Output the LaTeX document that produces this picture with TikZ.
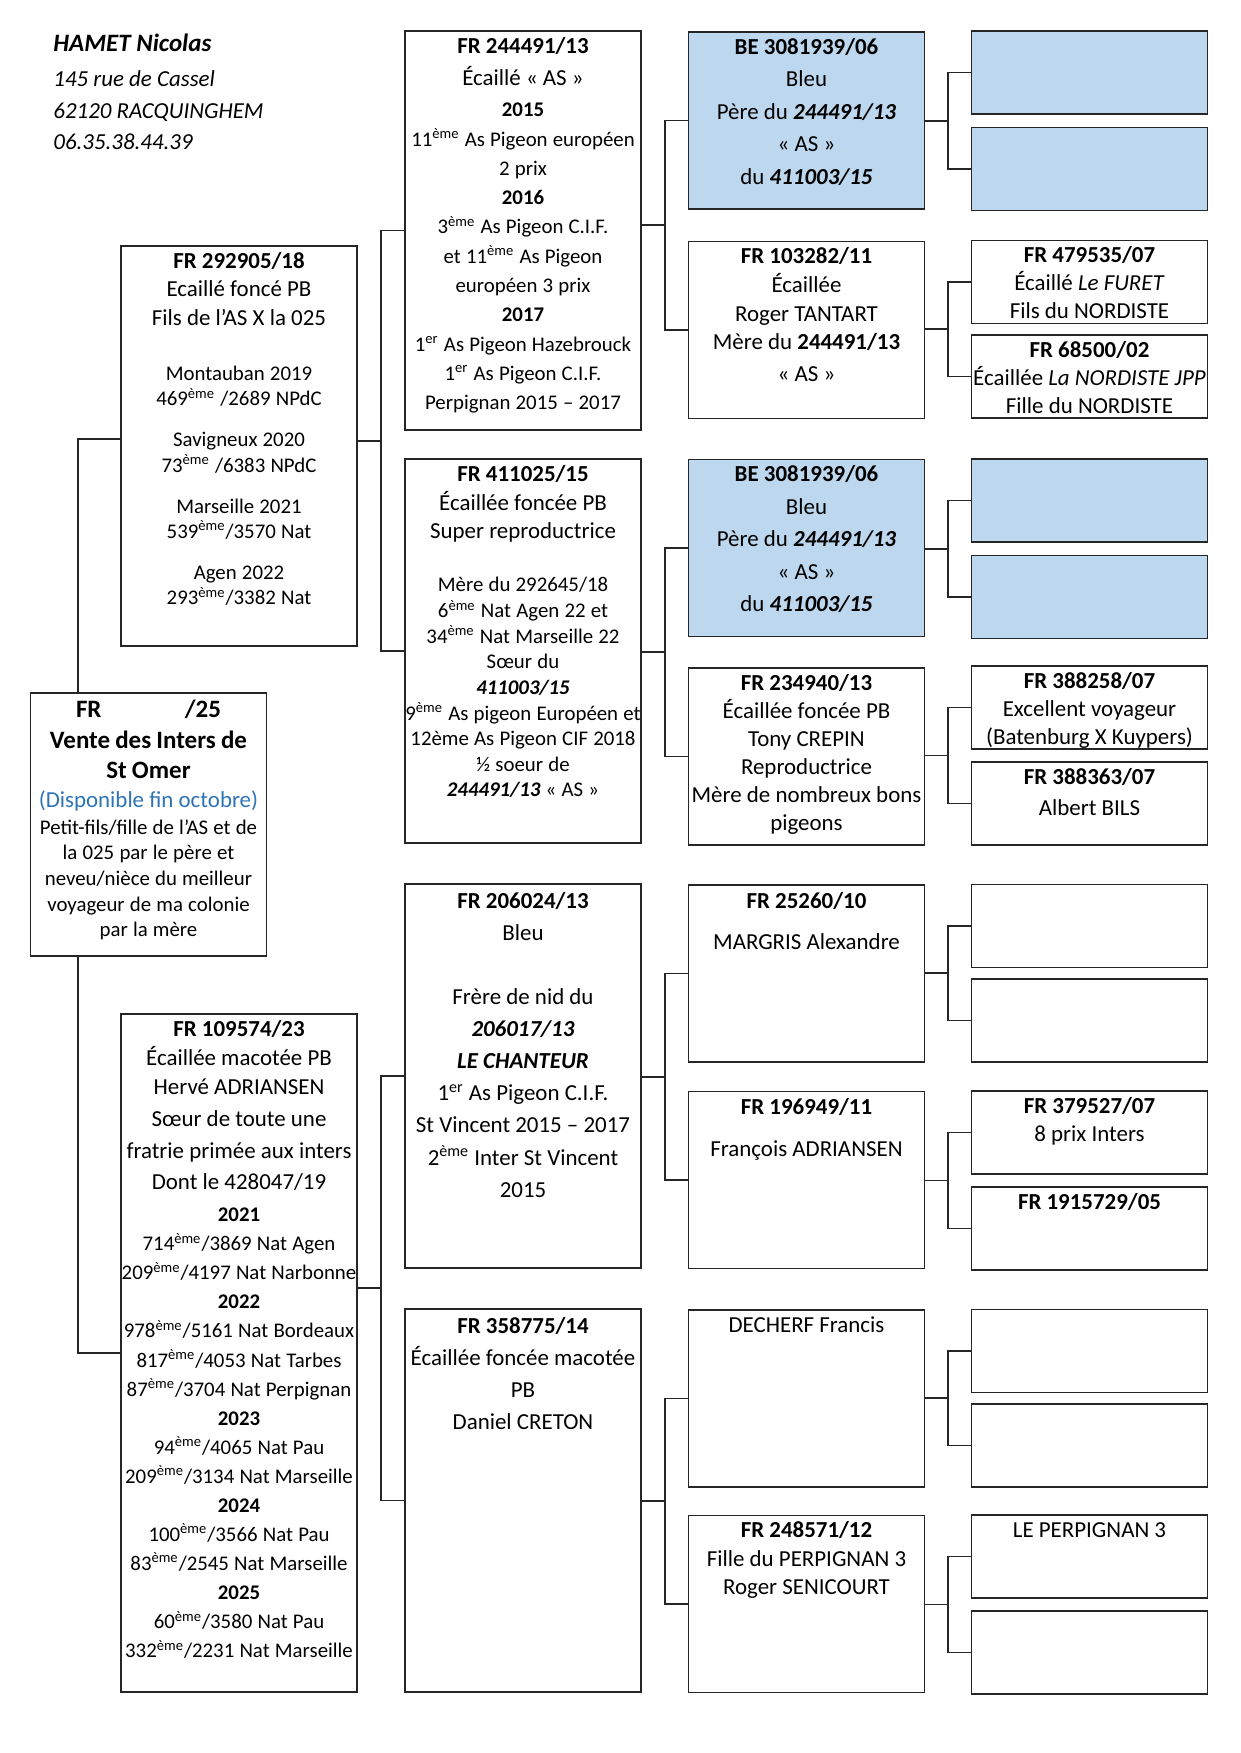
\documentclass[tikz,border=0pt]{standalone}
\usepackage{fontspec}
\setmainfont{Carlito}
\usetikzlibrary{positioning,calc}
\definecolor{fillblue}{RGB}{189,215,238}
\definecolor{linegray}{RGB}{38,38,38}
\definecolor{noteblue}{RGB}{46,116,181}
\newlength\unitpx
\setlength\unitpx{0.48006pt}
\newcommand\fstrut{\rule{0pt}{9pt}}
\newcommand\tenpt{\fontsize{10}{\baselineskip}\selectfont}
\newcommand\eme{\textsuperscript{ème}}
\newcommand\er{\textsuperscript{er}}
\tikzset{
  % cadres de l'arbre
  pedbox/.style  = {draw=linegray, line width=0.75pt, fill=white, inner sep=0pt, minimum width=236\unitpx},
  tall/.style    = {minimum height=#1\unitpx},
  % textes dans les cadres
  txt/.style     = {anchor=north, align=center, inner sep=0pt, text width=125pt, font=\fontsize{11}{#1}\selectfont,
                    execute at begin node={\spaceskip=0.2264em\relax\xspaceskip=0.2264em\relax}},
  txt/.default   = 14,
  % traits de liaison
  link/.style    = {draw=linegray, line width=0.75pt},
}
\begin{document}
\begin{tikzpicture}[x=\unitpx, y=-\unitpx]
  \useasboundingbox (0,0) rectangle (1240,1753);

  % en-tete
  \node[anchor=north west, align=left, inner sep=0pt, font=\fontsize{11}{15.3}\selectfont\itshape] (hdr) at (53,30.3)
    {\rule{0pt}{10pt}\fontsize{12}{15.3}\selectfont\textbf{HAMET Nicolas}\\[1.3pt]
     \fontsize{11}{15.3}\selectfont 145 rue de Cassel\\ 62120 RACQUINGHEM\\ 06.35.38.44.39};

  % le jeune
  \node[pedbox, tall=263] (young) at (148.5,824.5) {};
  \node[txt=12.3, below=1.8pt of young.north] (youngt)
    {\fontsize{12}{12.3}\selectfont\bfseries\rule{0pt}{10pt}FR\hspace{40pt}/25\\[2.6pt]
     Vente des Inters de\\[2.1pt] St Omer\\[1.6pt]
     \mdseries\fontsize{11}{12.3}\selectfont\textcolor{noteblue}{(Disponible fin octobre)}\\[0.7pt]
     \fontsize{10}{12.3}\selectfont Petit-fils/fille de l’AS et de\\ la 025 par le père et\\
     neveu/nièce du meilleur\\ voyageur de ma colonie\\ par la mère};

  % parents
  \node[pedbox, tall=400] (p1) at (239,446) {};
  \node[pedbox, tall=678] (p2) at (239,1353) {};
  \node[txt=12.2, below=1.8pt of p1.north] (p1t)
    {\fstrut\textbf{FR 292905/18}\\[1.5pt] Ecaillé foncé PB\\[1.5pt] Fils de l’AS X la 025\\[14.2pt]
     \tenpt Montauban 2019\\ 469\eme{} /2689 NPdC\\[7.5pt] Savigneux 2020\\ 73\eme{} /6383 NPdC\\[7.5pt]
     Marseille 2021\\ 539\eme/3570 Nat\\[7.5pt] Agen 2022\\ 293\eme/3382 Nat};
  \node[txt=13.95, below=1.8pt of p2.north] (p2t)
    {\fstrut\textbf{FR 109574/23}\\ Écaillée macotée PB\\ Hervé ADRIANSEN\\[1.6pt] Sœur de toute une\\[1.1pt]
     fratrie primée aux inters\\[1.1pt] Dont le 428047/19\\[1.6pt]
     \tenpt\textbf{2021}\\ 714\eme/3869 Nat Agen\\ 209\eme/4197 Nat Narbonne\\
     \textbf{2022}\\ 978\eme/5161 Nat Bordeaux\\ 817\eme/4053 Nat Tarbes\\ 87\eme/3704 Nat Perpignan\\
     \textbf{2023}\\ 94\eme/4065 Nat Pau\\ 209\eme/3134 Nat Marseille\\
     \textbf{2024}\\ 100\eme/3566 Nat Pau\\ 83\eme/2545 Nat Marseille\\
     \textbf{2025}\\ 60\eme/3580 Nat Pau\\ 332\eme/2231 Nat Marseille};

  % grands-parents
  \foreach \i/\y/\h in {1/230.5/399, 2/651/384, 3/1076/384, 4/1500.5/383}
    \node[pedbox, tall=\h] (gp\i) at (523,\y) {};
  \node[txt=14.05, below=1.8pt of gp1.north] (gp1t)
    {\fstrut\textbf{FR 244491/13}\\[1.5pt] Écaillé «~AS~»\\[1pt] \tenpt\textbf{2015}\\ 11\eme{} As Pigeon européen\\ 2 prix\\
     \textbf{2016}\\ 3\eme{} As Pigeon C.I.F.\\ et 11\eme{} As Pigeon\\ européen 3 prix\\
     \textbf{2017}\\ 1\er{} As Pigeon Hazebrouck\\ 1\er{} As Pigeon C.I.F.\\ Perpignan 2015 – 2017};
  \node[txt=12.3, below=1.8pt of gp2.north] (gp2t)
    {\fstrut\textbf{FR 411025/15}\\[1.6pt] Écaillée foncée PB\\[1.1pt] Super reproductrice\\[13.6pt]
     \tenpt Mère du 292645/18\\ 6\eme{} Nat Agen 22 et\\ 34\eme{} Nat Marseille 22\\ Sœur du\\
     \textbf{\textit{411003/15}}\\ 9\eme{} As pigeon Européen et\\ 12ème As Pigeon CIF 2018\\
     ½ soeur de\\ \textbf{\textit{244491/13}} «~AS~»};
  \node[txt=15.4, below=2.9pt of gp3.north] (gp3t)
    {\fstrut\textbf{FR 206024/13}\\ Bleu\\[15.4pt] Frère de nid du\\ \textbf{\textit{206017/13}}\\
     \textbf{\textit{LE CHANTEUR}}\\ 1\er{} As Pigeon C.I.F.\\ St Vincent 2015 – 2017\\
     2\eme{} Inter St Vincent\\ 2015};
  \node[txt=15.4, below=2.9pt of gp4.north] (gp4t)
    {\fstrut\textbf{FR 358775/14}\\ Écaillée foncée macotée\\ PB\\ Daniel CRETON};

  % arriere-grands-parents
  \foreach \i/\y/\f in {1/120.5/fillblue, 2/330/white, 3/548/fillblue, 4/756.5/white,
                        5/973.5/white, 6/1180/white, 7/1398.5/white, 8/1604/white}
    \node[pedbox, fill=\f, tall=177] (ggp\i) at (806.5,\y) {};
  \node[txt=15.6, below=1.8pt of ggp1.north] (ggp1t)
    {\fstrut\textbf{BE 3081939/06}\\ Bleu\\ Père du \textbf{\textit{244491/13}}\\ «~AS~»\\ du \textbf{\textit{411003/15}}};
  \node[txt=13.8, below=1.8pt of ggp2.north] (ggp2t)
    {\fstrut\textbf{FR 103282/11}\\ Écaillée\\ Roger TANTART\\ Mère du \textbf{244491/13}\\[1.5pt] «~AS~»};
  \node[txt=15.6, below=1.8pt of ggp3.north] (ggp3t)
    {\fstrut\textbf{BE 3081939/06}\\ Bleu\\ Père du \textbf{\textit{244491/13}}\\ «~AS~»\\ du \textbf{\textit{411003/15}}};
  \node[txt=13.5, below=1.8pt of ggp4.north] (ggp4t)
    {\fstrut\textbf{FR 234940/13}\\ Écaillée foncée PB\\ Tony CREPIN\\ Reproductrice\\ Mère de nombreux bons\\ pigeons};
  \node[txt=13.5, below=2.3pt of ggp5.north] (ggp5t)
    {\fstrut\textbf{FR 25260/10}\\[6.5pt] MARGRIS Alexandre};
  \node[txt=13.5, below=2.3pt of ggp6.north] (ggp6t)
    {\fstrut\textbf{FR 196949/11}\\[6.5pt] François ADRIANSEN};
  \node[txt, below=1.8pt of ggp7.north] (ggp7t) {\fstrut DECHERF Francis};
  \node[txt=13.7, below=1.8pt of ggp8.north] (ggp8t)
    {\fstrut\textbf{FR 248571/12}\\ Fille du PERPIGNAN 3\\ Roger SENICOURT};

  % derniere generation
  \foreach \i/\y/\f in {1/72.5/fillblue, 2/169/fillblue, 3/282/white, 4/376.5/white,
                        5/500.5/fillblue, 6/597/fillblue, 7/707.5/white, 8/803.5/white,
                        9/926/white, 10/1020.5/white, 11/1132.5/white, 12/1228.5/white,
                        13/1351/white, 14/1445.5/white, 15/1556.5/white, 16/1652.5/white}
    \node[pedbox, fill=\f, tall=83] (h\i) at (1089.5,\y) {};
  \node[txt=13.5, below=1.8pt of h3.north] (h3t)
    {\fstrut\textbf{FR 479535/07}\\ Écaillé \textit{Le FURET}\\ Fils du NORDISTE};
  \node[txt=13.5, below=1.8pt of h4.north] (h4t)
    {\fstrut\textbf{FR 68500/02}\\ Écaillée \textit{La NORDISTE JPP}\\ Fille du NORDISTE};
  \node[txt=13.5, below=1.8pt of h7.north] (h7t)
    {\fstrut\textbf{FR 388258/07}\\ Excellent voyageur\\ (Batenburg X Kuypers)};
  \node[txt=14.9, below=1.8pt of h8.north] (h8t)
    {\fstrut\textbf{FR 388363/07}\\ Albert BILS};
  \node[txt=13.5, below=1.8pt of h11.north] (h11t)
    {\fstrut\textbf{FR 379527/07}\\ 8 prix Inters};
  \node[txt, below=1.8pt of h12.north] (h12t) {\fstrut\textbf{FR 1915729/05}};
  \node[txt, below=1.8pt of h15.north] (h15t) {\fstrut LE PERPIGNAN 3};

  % liaisons
  \coordinate (trunk) at (78,0);
  \draw[link] ([yshift=3.4pt]p1.west) -| (trunk |- young.north);
  \draw[link] (p2.west) -| (trunk |- young.south);
  \foreach \n/\a/\b in {p1/gp1/gp2, p2/gp3/gp4,
                        gp1/ggp1/ggp2, gp2/ggp3/ggp4, gp3/ggp5/ggp6, gp4/ggp7/ggp8,
                        ggp1/h1/h2, ggp2/h3/h4, ggp3/h5/h6, ggp4/h7/h8,
                        ggp5/h9/h10, ggp6/h11/h12, ggp7/h13/h14, ggp8/h15/h16}{
    \coordinate (k) at ($(\n.east)!0.5!(\a.west)$);
    \coordinate (m) at ($(\a.west)!0.5!(\b.west)$);
    \draw[link] (\a.west) -| (k |- \b.west) -- (\b.west);
    \draw[link] (\n.east |- m) -- (k |- m);
  }
\end{tikzpicture}
\end{document}
